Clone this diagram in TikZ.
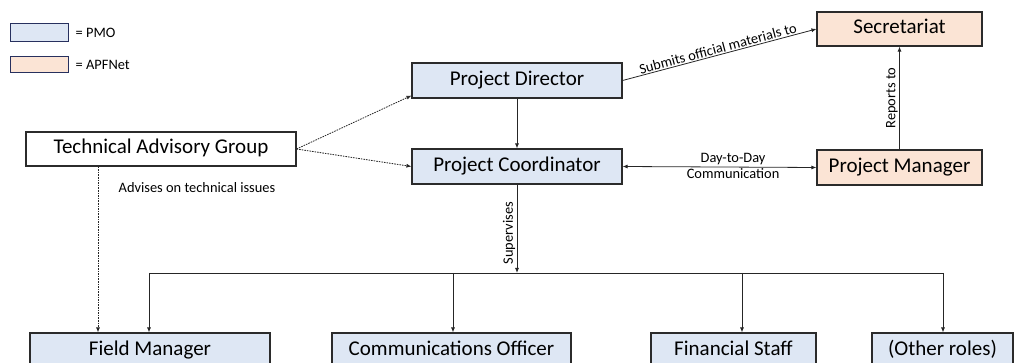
\documentclass[tikz,border=0pt]{standalone}
\usepackage{fontspec}
\setmainfont{Carlito}
\usetikzlibrary{arrows.meta,calc}
\definecolor{pmo}{HTML}{DEE7F4}
\definecolor{apf}{HTML}{FBE4D5}
\definecolor{bord}{HTML}{2B2B2B}
\definecolor{legbord}{HTML}{27305E}
\tikzset{
  box/.style={draw=bord, line width=1.1pt, minimum height=35pt, inner sep=0pt, text height=14.5pt, text depth=4.5pt, font=\fontsize{21}{25}\selectfont},
  pmobox/.style={box, fill=pmo},
  apfbox/.style={box, fill=apf},
  small/.style={font=\fontsize{14.4}{16}\selectfont, inner sep=1.5pt},
  conn/.style={line width=0.8pt, draw=black!85, -{Latex[length=5pt,width=4pt]}},
  plain/.style={line width=0.8pt, draw=black!85},
  dashconn/.style={conn, dash pattern=on 1.6pt off 1pt},
}
\begin{document}
\begin{tikzpicture}[x=1pt,y=-1pt]
\useasboundingbox (0,0) rectangle (1025,363);
\clip (0,0) rectangle (1025,363);
% legend
\node[draw=legbord, line width=1pt, fill=pmo, minimum width=58pt, minimum height=18pt, inner sep=0pt] (lg1) at (39,33) {};
\node[small, anchor=west] (lt1) at (74,33) {= PMO};
\node[draw=legbord, line width=1pt, fill=apf, minimum width=58pt, minimum height=16pt, inner sep=0pt] (lg2) at (39,65) {};
\node[small, anchor=west] (lt2) at (74,65) {= APFNet};
% nodes
\node[pmobox, minimum width=210pt] (PD) at (517,80.5) {Project Director};
\node[pmobox, minimum width=210pt] (PC) at (517,166.5) {Project Coordinator};
\node[apfbox, minimum width=165pt, minimum height=34pt] (SEC) at (899.5,29) {Secretariat};
\node[apfbox, minimum width=165pt] (PM) at (899.5,167.5) {Project Manager};
\node[box, fill=white, minimum width=270pt, minimum height=34pt] (TAG) at (161,149) {Technical Advisory Group};
\node[pmobox, minimum width=240pt] (FM) at (150,350.5) {Field Manager};
\node[pmobox, minimum width=239pt] (CO) at (451.5,350.5) {Communications Officer};
\node[pmobox, minimum width=165pt] (FS) at (733.5,350.5) {Financial Staff};
\node[pmobox, minimum width=141pt] (OR) at (942.5,350.5) {(Other roles)};
% bus coordinates
\coordinate (bL) at (149,273);
\coordinate (bC) at (453,273);
\coordinate (bS) at (517,273);
\coordinate (bF) at (742,273);
\coordinate (bR) at (943,273);
% connectors
\draw[conn] (PD) -- (PC);
\draw[conn] (PD.east) -- node[small, above, sloped, pos=0.5, inner sep=1pt] {Submits official materials to} (SEC.west);
\draw[conn] (PM) -- node[small, above, sloped] {Reports to} (SEC);
\draw[conn, {Latex[length=5pt,width=4pt]}-{Latex[length=5pt,width=4pt]}] (PC.east) -- node[small, above, pos=0.57] {Day-to-Day} node[small, below, pos=0.57] {Communication} (PM.west);
\draw[dashconn] (TAG.east) -- ([yshift=3pt]PD.south west);
\draw[dashconn] (TAG.east) -- (PC.west);
\draw[dashconn] (TAG.south -| 98,0) -- (FM.north -| 98,0);
\node[small, anchor=north] (adv) at (197,181) {Advises on technical issues};
\draw[conn] (PC.south) -- node[small, rotate=90, anchor=south, pos=0.55] {Supervises} (bS);
\draw[plain] (bL) -- (bR);
\draw[conn] (bL) -- (FM.north -| bL);
\draw[conn] (bC) -- (CO.north -| bC);
\draw[conn] (bF) -- (FS.north -| bF);
\draw[conn] (bR) -- (OR.north -| bR);
\end{tikzpicture}
\end{document}
